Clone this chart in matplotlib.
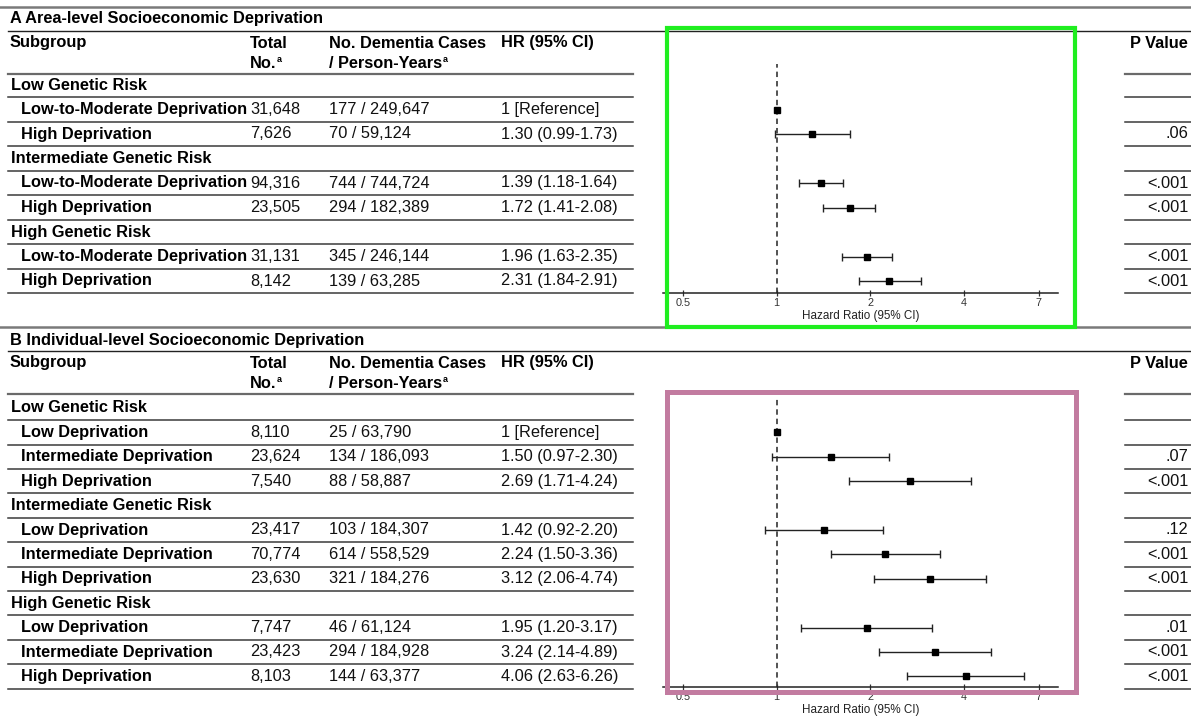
import numpy as np
import matplotlib
matplotlib.use("Agg")
import matplotlib.pyplot as plt
from matplotlib.patches import Rectangle

plt.rcParams['font.family'] = ['Liberation Sans', 'DejaVu Sans']

# ---------------- data ----------------
groups = ["Low Genetic Risk", "Intermediate Genetic Risk", "High Genetic Risk"]

title_A = "A Area-level Socioeconomic Deprivation"
levels_A = ["Low-to-Moderate Deprivation", "High Deprivation"]
total_A = ["31,648", "7,626", "94,316", "23,505", "31,131", "8,142"]
cases_A = ["177 / 249,647", "70 / 59,124", "744 / 744,724",
           "294 / 182,389", "345 / 246,144", "139 / 63,285"]
hr_A = [1.00, 1.30, 1.39, 1.72, 1.96, 2.31]
lo_A = [np.nan, 0.99, 1.18, 1.41, 1.63, 1.84]
hi_A = [np.nan, 1.73, 1.64, 2.08, 2.35, 2.91]
p_A = ["", ".06", "<.001", "<.001", "<.001", "<.001"]

title_B = "B Individual-level Socioeconomic Deprivation"
levels_B = ["Low Deprivation", "Intermediate Deprivation", "High Deprivation"]
total_B = ["8,110", "23,624", "7,540", "23,417", "70,774", "23,630",
           "7,747", "23,423", "8,103"]
cases_B = ["25 / 63,790", "134 / 186,093", "88 / 58,887", "103 / 184,307",
           "614 / 558,529", "321 / 184,276", "46 / 61,124", "294 / 184,928",
           "144 / 63,377"]
hr_B = [1.00, 1.50, 2.69, 1.42, 2.24, 3.12, 1.95, 3.24, 4.06]
lo_B = [np.nan, 0.97, 1.71, 0.92, 1.50, 2.06, 1.20, 2.14, 2.63]
hi_B = [np.nan, 2.30, 4.24, 2.20, 3.36, 4.74, 3.17, 4.89, 6.26]
p_B = ["", ".07", "<.001", ".12", "<.001", "<.001", ".01", "<.001", "<.001"]

x_ticks = [0.5, 1, 2, 4, 7]
x_ticklabels = ["0.5", "1", "2", "4", "7"]
x_label = "Hazard Ratio (95% CI)"
headers = ["Subgroup", "Total", "No.", "No. Dementia Cases", "/ Person-Years",
           "HR (95% CI)", "P Value"]

# ---------------- figure ----------------
W, H = 1191, 717
fig = plt.figure(figsize=(W / 100, H / 100), dpi=100)
ov = fig.add_axes([0, 0, 1, 1])
ov.set_xlim(0, W)
ov.set_ylim(H, 0)
ov.axis('off')

FS = 11.8
renderer = fig.canvas.get_renderer()
TABLE_R = 633
PCOL_L, PCOL_R = 1125, 1191
LINE_C = '#3a3a3a'


def sup_text(x, y, s):
    t = ov.text(x, y, s, fontsize=FS, fontweight='bold', va='center', ha='left')
    bb = t.get_window_extent(renderer=renderer)
    ov.text(x + bb.width + 0.5, y - 4, "a", fontsize=FS * 0.55, fontweight='bold',
            va='center', ha='left')


def build_rows(levels, total, cases, hr, lo, hi, pv):
    rows = []
    k = 0
    for g in groups:
        rows.append(dict(kind='g', name=g))
        for lv in levels:
            if np.isnan(lo[k]):
                hrs = "1 [Reference]"
            else:
                hrs = f"{hr[k]:.2f} ({lo[k]:.2f}-{hi[k]:.2f})"
            rows.append(dict(kind='s', name=lv, tot=total[k], cas=cases[k],
                             hrs=hrs, p=pv[k], hr=hr[k], lo=lo[k], hi=hi[k]))
            k += 1
    return rows


def panel(title, rows, y_top_line, y_title, y_title_line, y_h1, y_h2,
          y_hline, y0, pitch, ax_top, ax_bot):
    ov.plot([0, W], [y_top_line, y_top_line], color='#7a7a7a', lw=1.8)
    ov.text(10, y_title, title, fontsize=FS, fontweight='bold', va='center')
    ov.plot([8, W], [y_title_line, y_title_line], color='#222222', lw=1.0)
    ov.text(10, y_h1, headers[0], fontsize=FS, fontweight='bold', va='center')
    ov.text(250, y_h1, headers[1], fontsize=FS, fontweight='bold', va='center')
    sup_text(250, y_h2, headers[2])
    ov.text(329, y_h1, headers[3], fontsize=FS, fontweight='bold', va='center')
    sup_text(329, y_h2, headers[4])
    ov.text(501, y_h1, headers[5], fontsize=FS, fontweight='bold', va='center')
    ov.text(1188, y_h1, headers[6], fontsize=FS, fontweight='bold',
            va='center', ha='right')
    ov.plot([8, TABLE_R], [y_hline, y_hline], color='#6a6a6a', lw=1.6)
    ov.plot([PCOL_L, PCOL_R], [y_hline, y_hline], color='#6a6a6a', lw=1.6)

    for i, r in enumerate(rows):
        yc = y0 + pitch * i
        yl = yc + pitch / 2
        if r['kind'] == 'g':
            ov.text(11, yc, r['name'], fontsize=FS, fontweight='bold', va='center')
        else:
            ov.text(21, yc, r['name'], fontsize=FS, fontweight='bold', va='center')
            ov.text(250, yc, r['tot'], fontsize=FS, va='center', color='#111111')
            ov.text(329, yc, r['cas'], fontsize=FS, va='center', color='#111111')
            ov.text(501, yc, r['hrs'], fontsize=FS, va='center', color='#111111')
            if r['p']:
                ov.text(1188, yc, r['p'], fontsize=FS, va='center', ha='right',
                        color='#111111')
        ov.plot([8, TABLE_R], [yl, yl], color=LINE_C, lw=1.1)
        ov.plot([PCOL_L, PCOL_R], [yl, yl], color=LINE_C, lw=1.1)

    left, right = 663, 1058
    ax = fig.add_axes([left / W, 1 - ax_bot / H, (right - left) / W,
                       (ax_bot - ax_top) / H])
    ax.set_facecolor('none')
    ax.set_xscale('log')
    ax.set_xlim(0.431, 8.06)
    ax.set_ylim((ax_bot - y0) / pitch, (ax_top - y0) / pitch)
    for s in ['left', 'top', 'right']:
        ax.spines[s].set_visible(False)
    ax.spines['bottom'].set_color('#222222')
    ax.spines['bottom'].set_linewidth(1.1)
    ax.set_yticks([])
    ax.set_xticks(x_ticks)
    ax.set_xticklabels(x_ticklabels)
    ax.minorticks_off()
    ax.tick_params(axis='x', direction='inout', length=5, width=0.9,
                   labelsize=7.8, pad=1.2, colors='#333333')
    ax.set_xlabel(x_label, fontsize=8.4, labelpad=1.2, color='#222222')
    ax.axvline(1, color='#444444', lw=1.3, ls=(0, (3.0, 2.2)), zorder=1)
    for i, r in enumerate(rows):
        if r['kind'] != 's':
            continue
        if np.isnan(r['lo']):
            ax.plot([r['hr']], [i], marker='s', ms=4.0, color='black', zorder=3)
        else:
            ax.errorbar([r['hr']], [i],
                        xerr=[[r['hr'] - r['lo']], [r['hi'] - r['hr']]],
                        fmt='s', ms=4.0, color='black', ecolor='#222222',
                        elinewidth=1.0, capsize=2.8, capthick=1.0, zorder=3)
    return ax


rows_A = build_rows(levels_A, total_A, cases_A, hr_A, lo_A, hi_A, p_A)
rows_B = build_rows(levels_B, total_B, cases_B, hr_B, lo_B, hi_B, p_B)

panel(title_A, rows_A, 7, 18, 31, 43, 63, 73.5, 85, 24.5, 64, 293)
panel(title_B, rows_B, 327, 340, 351, 363, 383, 394, 408, 24.4, 396, 687)

fig.add_artist(Rectangle((667, 28), 408, 299, transform=ov.transData,
                         fill=False, edgecolor='#1fee1f', lw=3.0, zorder=5))
fig.add_artist(Rectangle((667, 392), 409, 300, transform=ov.transData,
                         fill=False, edgecolor='#c27ba0', lw=3.6, zorder=5))

fig.savefig("out.png", dpi=100)
